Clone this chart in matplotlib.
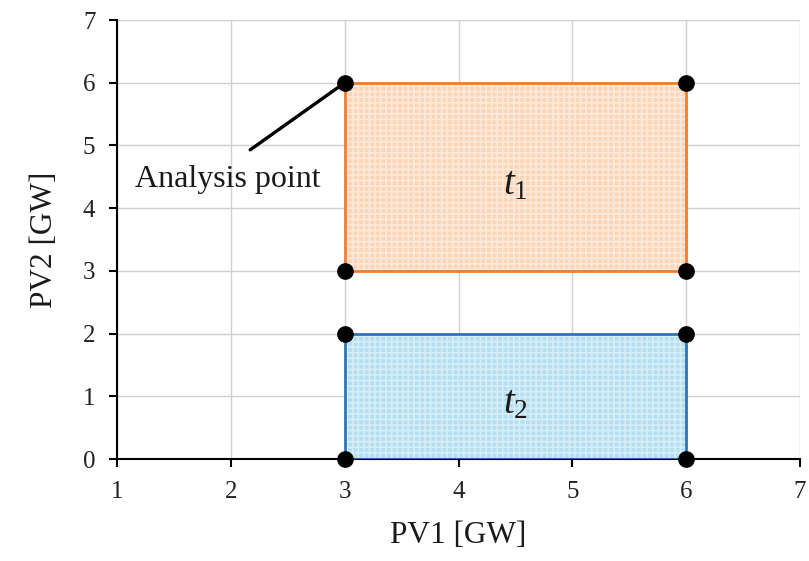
import matplotlib
matplotlib.use("Agg")
import matplotlib.pyplot as plt
from matplotlib.patches import Rectangle

plt.rcParams['font.family'] = ['Liberation Serif', 'DejaVu Serif']
plt.rcParams['mathtext.fontset'] = 'custom'
plt.rcParams['mathtext.it'] = 'Liberation Serif:italic'
plt.rcParams['mathtext.rm'] = 'Liberation Serif'
plt.rcParams['hatch.linewidth'] = 1.2

# data
region_names = ["$t_1$", "$t_2$"]
pv1_min = [3, 3]
pv1_max = [6, 6]
pv2_min = [3, 0]
pv2_max = [6, 2]
fill_colors = ["#fbd5b8", "#b5dff0"]
hatch_colors = ["#fde9da", "#d6eef8"]
edge_colors = ["#ed7d31", "#2e75b6"]
corner_x = [3, 6, 3, 6, 3, 6, 3, 6]
corner_y = [6, 6, 3, 3, 2, 2, 0, 0]
analysis_point = (3, 6)
x_ticks = [1, 2, 3, 4, 5, 6, 7]
y_ticks = [0, 1, 2, 3, 4, 5, 6, 7]

fig = plt.figure(figsize=(8.09, 5.61), dpi=100)
ax = fig.add_axes([0.1446, 0.1818, 0.8444, 0.7825])
ax.set_xlim(1, 7)
ax.set_ylim(0, 7)
ax.set_xticks(x_ticks)
ax.set_yticks(y_ticks)
ax.grid(True, color="#d0d0d0", linewidth=1.0)
ax.set_axisbelow(True)
for s in ["top", "right"]:
    ax.spines[s].set_visible(False)
for s in ["left", "bottom"]:
    ax.spines[s].set_linewidth(1.5)
    ax.spines[s].set_color("black")
ax.tick_params(direction="out", length=5.5, width=1.5, labelsize=18, colors="black",
               labelcolor="#222222")
ax.tick_params(axis='y', pad=10)
ax.tick_params(axis='x', pad=10)

for i in range(len(region_names)):
    w = pv1_max[i] - pv1_min[i]
    h = pv2_max[i] - pv2_min[i]
    ax.add_patch(Rectangle((pv1_min[i], pv2_min[i]), w, h, facecolor=fill_colors[i],
                           edgecolor=hatch_colors[i], hatch="+++", linewidth=0, zorder=2))
    ax.add_patch(Rectangle((pv1_min[i], pv2_min[i]), w, h, facecolor="none",
                           edgecolor=edge_colors[i], linewidth=2, zorder=3))
    ax.text((pv1_min[i] + pv1_max[i]) / 2, (pv2_min[i] + pv2_max[i]) / 2 - 0.12,
            region_names[i], fontsize=28, ha="center", va="center", zorder=4, color="#1a1a1a")

ax.plot(corner_x, corner_y, "o", color="black", markersize=11, zorder=5, clip_on=False)

ax.annotate("", xy=analysis_point, xytext=(2.17, 4.93),
            arrowprops=dict(arrowstyle="-", color="black", lw=2.4, shrinkA=0, shrinkB=0), zorder=4)
ax.text(1.975, 4.45, "Analysis point", fontsize=23, ha="center", va="center", color="#1a1a1a")

ax.set_xlabel("PV1 [GW]", fontsize=22.5, labelpad=13, color="#1a1a1a")
ax.set_ylabel("PV2 [GW]", fontsize=22.5, labelpad=17, color="#1a1a1a")

fig.savefig("out.png", dpi=100)
